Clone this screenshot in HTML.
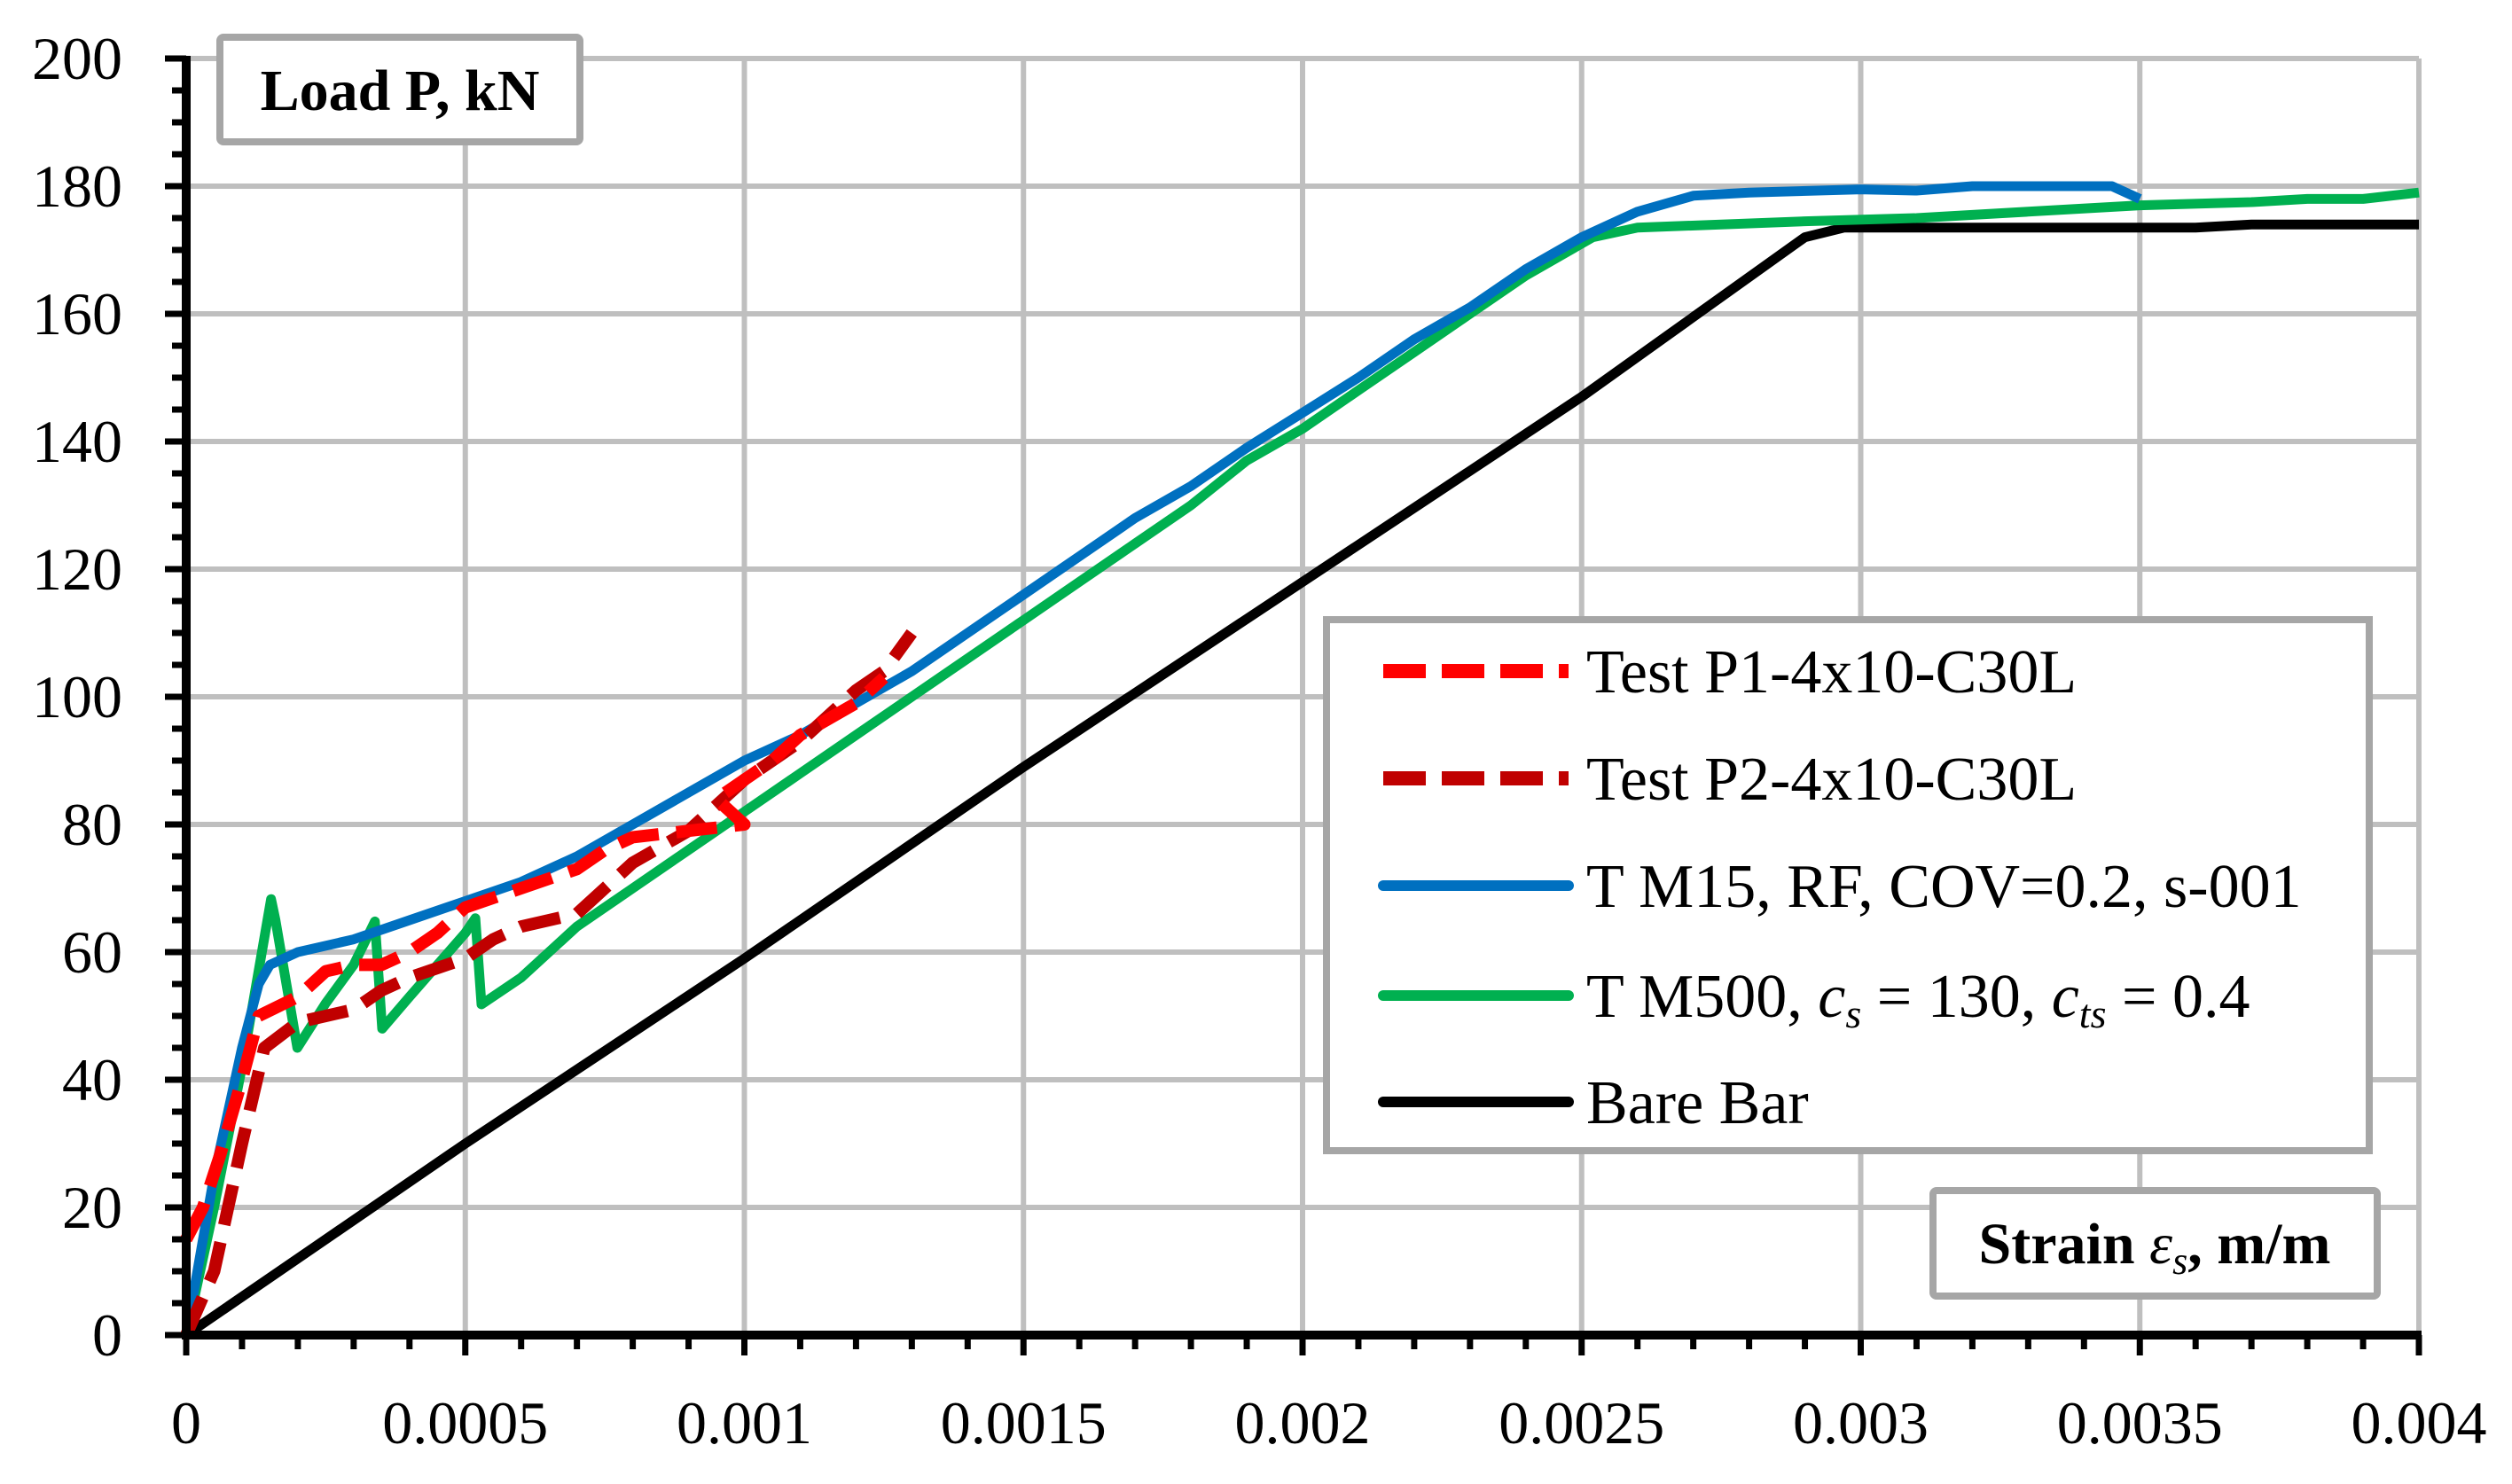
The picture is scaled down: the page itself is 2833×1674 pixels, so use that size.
<!DOCTYPE html>
<html><head><meta charset="utf-8"><style>
html,body{margin:0;padding:0;background:#fff}
svg{display:block}
text{font-family:"Liberation Serif",serif;fill:#000}
</style></head><body>
<svg id="chart" width="2833" height="1674" viewBox="0 0 2833 1674" xmlns="http://www.w3.org/2000/svg">
<g id="grid"></g>
<g id="series"></g>
<g id="axes"></g>
<g>
<rect x="248" y="42" width="406" height="118" rx="4" fill="#fff" stroke="#a6a6a6" stroke-width="8"/>
<text x="451" y="124" text-anchor="middle" font-size="66" font-weight="bold">Load P, kN</text>
</g>
<g>
<rect x="2180" y="1343" width="501" height="119" rx="4" fill="#fff" stroke="#a6a6a6" stroke-width="8"/>
<text x="2430" y="1425" text-anchor="middle" font-size="66" font-weight="bold">Strain <tspan font-style="italic" font-weight="normal">ε</tspan><tspan font-style="italic" font-weight="normal" font-size="44" dy="12">s</tspan><tspan dy="-12">, m/m</tspan></text>
</g>
<g id="legend">
<rect x="1496" y="699" width="1176" height="599" fill="#fff" stroke="#a6a6a6" stroke-width="8"/>
</g>
</svg>
<script>
const xTicks=[0,0.0005,0.001,0.0015,0.002,0.0025,0.003,0.0035,0.004];
const xTickLabels=["0","0.0005","0.001","0.0015","0.002","0.0025","0.003","0.0035","0.004"];
const yTicks=[0,20,40,60,80,100,120,140,160,180,200];
const yTickLabels=["0","20","40","60","80","100","120","140","160","180","200"];

const p1X=[0,0.00003,0.00006,0.0001,0.00013,0.0002,0.00025,0.0003,0.00035,0.0004,0.00045,0.0005,0.0006,0.0007,0.00075,0.0008,0.0009,0.001,0.00095,0.00105,0.0011,0.0012,0.00125];
const p1Y=[15,20,28,40,50,53,57,58,58,60,63,67,70,73,76,78,79,80,84,90,94,99,103];
const p2X=[0,0.00005,0.0001,0.00014,0.0002,0.0003,0.00035,0.0004,0.0005,0.00055,0.0006,0.0007,0.00075,0.0008,0.0009,0.001,0.0011,0.0012,0.00125,0.0013];
const p2Y=[0,10,30,45,49,51,54,56,59,62,64,66,70,74,79,87,93,101,104,110];
const m15X=[0,0.00005,0.0001,0.00013,0.00015,0.0002,0.0003,0.0004,0.0005,0.0006,0.0007,0.0008,0.0009,0.001,0.0011,0.0012,0.0013,0.0014,0.0015,0.0016,0.0017,0.0018,0.0019,0.002,0.0021,0.0022,0.0023,0.0024,0.0025,0.0026,0.0027,0.0028,0.003,0.0031,0.0032,0.0034,0.00345,0.0035];
const m15Y=[0,25,45,55,58,60,62,65,68,71,75,80,85,90,94,99,104,110,116,122,128,133,139,144.5,150,156,161,167,172,176,178.5,179,179.5,179.3,180,180,180,178];
const m500X=[0,0.00005,0.0001,0.000152,0.00016,0.000199,0.00025,0.0003,0.000338,0.000351,0.0004,0.00045,0.0005,0.000518,0.000529,0.0006,0.0007,0.0008,0.0009,0.001,0.0011,0.0012,0.0013,0.0014,0.0015,0.0016,0.0017,0.0018,0.0019,0.002,0.0021,0.0022,0.0023,0.0024,0.00252,0.0026,0.0029,0.0031,0.0033,0.0035,0.0037,0.0038,0.0039,0.004];
const m500Y=[0,20,42,68.3,65,45,52,58,64.8,48,53,58,63,65.3,51.8,56,64,70,76,82,88,94,100,106,112,118,124,130,137,142,148,154,160,166,172,173.5,174.5,175,176,177,177.5,178,178,179];
const bareX=[0,0.0005,0.001,0.0015,0.002,0.0025,0.0029,0.00297,0.0036,0.0037,0.004];
const bareY=[0,30,59,89,118,147,172,173.5,173.5,174,174];

const X0=210,X1=2728,Y0=1506,Y1=66;
const sx=v=>X0+(v/0.004)*(X1-X0);
const sy=v=>Y0-(v/200)*(Y0-Y1);
const NS="http://www.w3.org/2000/svg";
function mk(tag,attrs,parent){const e=document.createElementNS(NS,tag);for(const k in attrs)e.setAttribute(k,attrs[k]);parent.appendChild(e);return e;}
const grid=document.getElementById('grid'),axes=document.getElementById('axes'),series=document.getElementById('series'),legend=document.getElementById('legend');

yTicks.forEach((t,i)=>{
  if(t>0){const g=mk('line',{x1:X0,x2:X1,y1:sy(t),y2:sy(t),stroke:'#bfbfbf','stroke-width':6},grid);
  
  }
  const tx=mk('text',{x:138,y:sy(t)+23,'text-anchor':'end','font-size':68},axes);tx.textContent=yTickLabels[i];
  
  
});
xTicks.forEach((t,i)=>{
  if(t>0){const g=mk('line',{x1:sx(t),x2:sx(t),y1:Y1,y2:Y0,stroke:'#bfbfbf','stroke-width':6},grid);
  
  }
  const tx=mk('text',{x:sx(t),y:1628,'text-anchor':'middle','font-size':68},axes);tx.textContent=xTickLabels[i];
  
  
});
for(let k=0;k<=40;k++){const v=k*5;const maj=v%20===0;mk('line',{x1:maj?186:194,x2:X0,y1:sy(v),y2:sy(v),stroke:'#000','stroke-width':7},axes);}
for(let k=0;k<=40;k++){const v=k*0.0001;const maj=k%5===0;mk('line',{x1:sx(v),x2:sx(v),y1:Y0,y2:maj?1529:1522,stroke:'#000','stroke-width':7},axes);}
mk('line',{x1:X0,x2:X0,y1:Y1-3,y2:Y0+5,stroke:'#000','stroke-width':10},axes);
mk('line',{x1:X0-5,x2:X1+3,y1:Y0,y2:Y0,stroke:'#000','stroke-width':10},axes);

const defs=[
 {n:'bare-bar-line',x:bareX,y:bareY,c:'#000000',d:null,w:11},
 {n:'t-m500-line',x:m500X,y:m500Y,c:'#00b050',d:null,w:11},
 {n:'t-m15-line',x:m15X,y:m15Y,c:'#0070c0',d:null,w:11},
 {n:'test-p2-line',x:p2X,y:p2Y,c:'#c00000',d:'46 20',w:14},
 {n:'test-p1-line',x:p1X,y:p1Y,c:'#ff0000',d:'46 20',w:14}
];
defs.forEach(s=>{
  const pts=s.x.map((v,i)=>sx(v).toFixed(1)+','+sy(s.y[i]).toFixed(1)).join(' ');
  const a={points:pts,fill:'none',stroke:s.c,'stroke-width':s.w,'stroke-linejoin':'round'};
  if(s.d)a['stroke-dasharray']=s.d;
  const p=mk('polyline',a,series);
  
  
});

const leg=[
 {t:'Test P1-4x10-C30L',c:'#ff0000',d:true,y:757},
 {t:'Test P2-4x10-C30L',c:'#c00000',d:true,y:878},
 {t:'T M15, RF, COV=0.2, s-001',c:'#0070c0',d:false,y:999},
 {t:'m500',c:'#00b050',d:false,y:1123},
 {t:'Bare Bar',c:'#000000',d:false,y:1243}
];
leg.forEach(l=>{
  const a={x1:1560,x2:1769,y1:l.y,y2:l.y,stroke:l.c,'stroke-width':l.d?16:12,'stroke-linecap':l.d?'butt':'round'};
  if(l.d)a['stroke-dasharray']='48 18';
  const ln=mk('line',a,legend);
  
  
  const tx=mk('text',{x:1789,y:l.y+24,'font-size':70},legend);
  
  
  if(l.t==='m500'){
    tx.innerHTML='T M500, <tspan font-style="italic">c</tspan><tspan font-style="italic" font-size="46" dy="12">s</tspan><tspan dy="-12"> = 130, </tspan><tspan font-style="italic">c</tspan><tspan font-style="italic" font-size="46" dy="12">ts</tspan><tspan dy="-12"> = 0.4</tspan>';
  } else tx.textContent=l.t;
});
</script>
</body></html>
